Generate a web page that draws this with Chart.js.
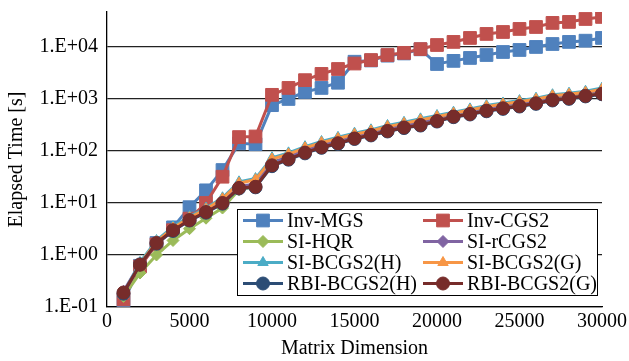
<!DOCTYPE html>
<html>
<head>
<meta charset="utf-8">
<title>Elapsed Time vs Matrix Dimension</title>
<script src="https://cdn.jsdelivr.net/npm/chart.js"></script>
<style>
  html, body { margin: 0; padding: 0; background: #fff; }
  #wrap { width: 629px; height: 361px; position: relative; }
</style>
</head>
<body>
<div id="wrap"><canvas id="timeChart"></canvas></div>
<script>
// Matrix sizes (x values)
const dims = [1000, 2000, 3000, 4000, 5000, 6000, 7000, 8000, 9000, 10000,
  11000, 12000, 13000, 14000, 15000, 16000, 17000, 18000, 19000, 20000,
  21000, 22000, 23000, 24000, 25000, 26000, 27000, 28000, 29000, 30000];

// Elapsed time in seconds for each method
const invMGS = [0.125, 0.62, 1.7, 3.4, 8.3, 17.5, 43, 140, 135, 760,
  1000, 1360, 1630, 2050, 5200, 5500, 6800, 7500, 9000, 4700,
  5400, 6150, 7000, 8000, 8750, 10000, 11400, 12500, 13200, 14900];
const invCGS2 = [0.14, 0.6, 1.6, 3.0, 5.0, 10, 32, 185, 190, 1200,
  1630, 2300, 3030, 3770, 4800, 5600, 7000, 7700, 9100, 10900,
  12500, 14900, 17800, 19400, 22200, 24200, 29000, 30300, 34500, 37800];
const siHQR = [0.16, 0.45, 1.0, 1.9, 3.2, 5.1, 8.0, 18, 21, 58,
  76, 100, 128, 154, 190, 222, 265, 308, 350, 415,
  500, 570, 655, 730, 810, 910, 1050, 1140, 1260, 1420];
const siRCGS2 = [0.2, 0.68, 1.75, 3.1, 5.0, 7.2, 11, 21, 23, 60,
  78, 104, 133, 160, 196, 230, 276, 320, 360, 430,
  520, 590, 680, 760, 840, 940, 1090, 1180, 1310, 1480];
const siBCGS2H = [0.18, 0.72, 1.9, 3.5, 5.5, 8.0, 12.6, 25.5, 29.5, 74,
  92, 121, 152, 183, 220, 255, 309, 356, 415, 481,
  557, 645, 749, 838, 930, 1037, 1208, 1292, 1407, 1620];
const siBCGS2G = [0.17, 0.68, 1.8, 3.3, 5.2, 7.6, 12, 24, 28, 70,
  87, 115, 145, 174, 209, 243, 294, 339, 395, 458,
  530, 614, 713, 798, 886, 988, 1150, 1230, 1340, 1540];
const rbiBCGS2H = [0.18, 0.66, 1.65, 2.9, 4.6, 6.5, 9.7, 19, 20, 51,
  68, 90, 115, 137, 170, 199, 237, 276, 308, 368,
  447, 503, 580, 645, 715, 806, 935, 1005, 1120, 1230];
const rbiBCGS2G = [0.19, 0.65, 1.7, 3.0, 4.7, 6.7, 10, 19.5, 20.5, 53,
  70, 93, 118, 141, 174, 204, 243, 283, 316, 377,
  458, 516, 595, 662, 733, 826, 959, 1030, 1150, 1260];

// Axis ticks
const xTicks = [0, 5000, 10000, 15000, 20000, 25000, 30000];
const yTickValues = [0.1, 1, 10, 100, 1000, 10000];
const yTickLabels = ['1.E-01', '1.E+00', '1.E+01', '1.E+02', '1.E+03', '1.E+04'];

const serif = '"Liberation Serif", "Times New Roman", serif';
Chart.defaults.font.family = serif;
Chart.defaults.font.size = 20;
Chart.defaults.color = '#000';
const font20 = { family: serif, size: 20 };

function series(label, values, color, style, radius) {
  return {
    label: label,
    data: values.map((v, i) => ({ x: dims[i], y: v })),
    borderColor: color,
    backgroundColor: color,
    pointBackgroundColor: color,
    pointBorderColor: color,
    pointStyle: style,
    pointRadius: radius,
    pointBorderWidth: 1,
    borderWidth: 3,
    tension: 0
  };
}

const datasets = [
  series('Inv-MGS', invMGS, '#4F81BD', 'rect', 9),
  series('Inv-CGS2', invCGS2, '#C0504D', 'rect', 9),
  series('SI-HQR', siHQR, '#9BBB59', 'rectRot', 6),
  series('SI-rCGS2', siRCGS2, '#8064A2', 'rectRot', 6),
  series('SI-BCGS2(H)', siBCGS2H, '#4BACC6', 'triangle', 6),
  series('SI-BCGS2(G)', siBCGS2G, '#F79646', 'triangle', 6),
  series('RBI-BCGS2(H)', rbiBCGS2H, '#2C4D75', 'circle', 6.5),
  series('RBI-BCGS2(G)', rbiBCGS2G, '#772C2A', 'circle', 6.5)
];
// later series are painted on top
datasets.forEach((ds, i) => { ds.order = datasets.length - i; });

// boxed two-column legend in the lower right of the plot
const boxLegend = {
  id: 'boxLegend',
  afterDraw(chart) {
    const ctx = chart.ctx;
    const area = chart.chartArea;
    const boxW = 360, boxH = 86;
    const x0 = Math.round(area.right - 5 - boxW);
    const y0 = Math.round(area.bottom - 12 - boxH);
    ctx.save();
    ctx.fillStyle = '#fff';
    ctx.fillRect(x0, y0, boxW, boxH);
    ctx.strokeStyle = '#000';
    ctx.lineWidth = 1;
    ctx.strokeRect(x0 + 0.5, y0 + 0.5, boxW, boxH);
    ctx.font = '20px ' + serif;
    ctx.textBaseline = 'middle';
    chart.data.datasets.forEach((ds, i) => {
      const lx = x0 + 6 + (i % 2) * 180;
      const ly = y0 + 11.5 + Math.floor(i / 2) * 21;
      ctx.strokeStyle = ds.borderColor;
      ctx.lineWidth = 3;
      ctx.beginPath();
      ctx.moveTo(lx, ly);
      ctx.lineTo(lx + 40, ly);
      ctx.stroke();
      ctx.fillStyle = ds.borderColor;
      ctx.lineWidth = 1;
      Chart.helpers.drawPoint(ctx, {
        pointStyle: ds.pointStyle, radius: ds.pointRadius, borderWidth: 1, rotation: 0
      }, lx + 20, ly);
      ctx.fillStyle = '#000';
      ctx.fillText(ds.label, lx + 44, ly + 1);
    });
    ctx.restore();
  }
};

const ctx = document.getElementById('timeChart').getContext('2d');
const chart = new Chart(ctx, {
  type: 'line',
  data: { datasets: datasets },
  plugins: [boxLegend],
  options: {
    responsive: true,
    maintainAspectRatio: false,
    animation: false,
    layout: { padding: { top: 12, right: 27, left: 0, bottom: 0 } },
    plugins: {
      legend: { display: false },
      tooltip: { enabled: false }
    },
    scales: {
      x: {
        type: 'linear',
        min: 0,
        max: 30000,
        afterBuildTicks: scale => { scale.ticks = xTicks.map(v => ({ value: v })); },
        afterFit: scale => {
          scale.height = 54;
          scale.paddingLeft = 0;
          scale.paddingRight = 0;
        },
        grid: { display: false, drawTicks: false },
        border: { color: '#000', width: 1.3 },
        ticks: { padding: 3, maxRotation: 0, font: font20, callback: value => String(value) },
        title: { display: true, text: 'Matrix Dimension', font: font20, padding: 0 }
      },
      y: {
        type: 'logarithmic',
        min: 0.1,
        max: 47000,
        afterBuildTicks: scale => { scale.ticks = yTickValues.map(v => ({ value: v })); },
        afterFit: scale => {
          scale.width = 107;
          scale.paddingTop = 0;
          scale.paddingBottom = 0;
        },
        grid: { color: '#222', lineWidth: 1.3, drawTicks: false },
        border: { color: '#000', width: 1.3 },
        ticks: {
          padding: 9,
          font: font20,
          callback: value => yTickLabels[yTickValues.indexOf(value)]
        },
        title: { display: true, text: 'Elapsed Time [s]', font: font20, padding: { top: 5, bottom: 0 } }
      }
    }
  }
});
</script>
</body>
</html>
